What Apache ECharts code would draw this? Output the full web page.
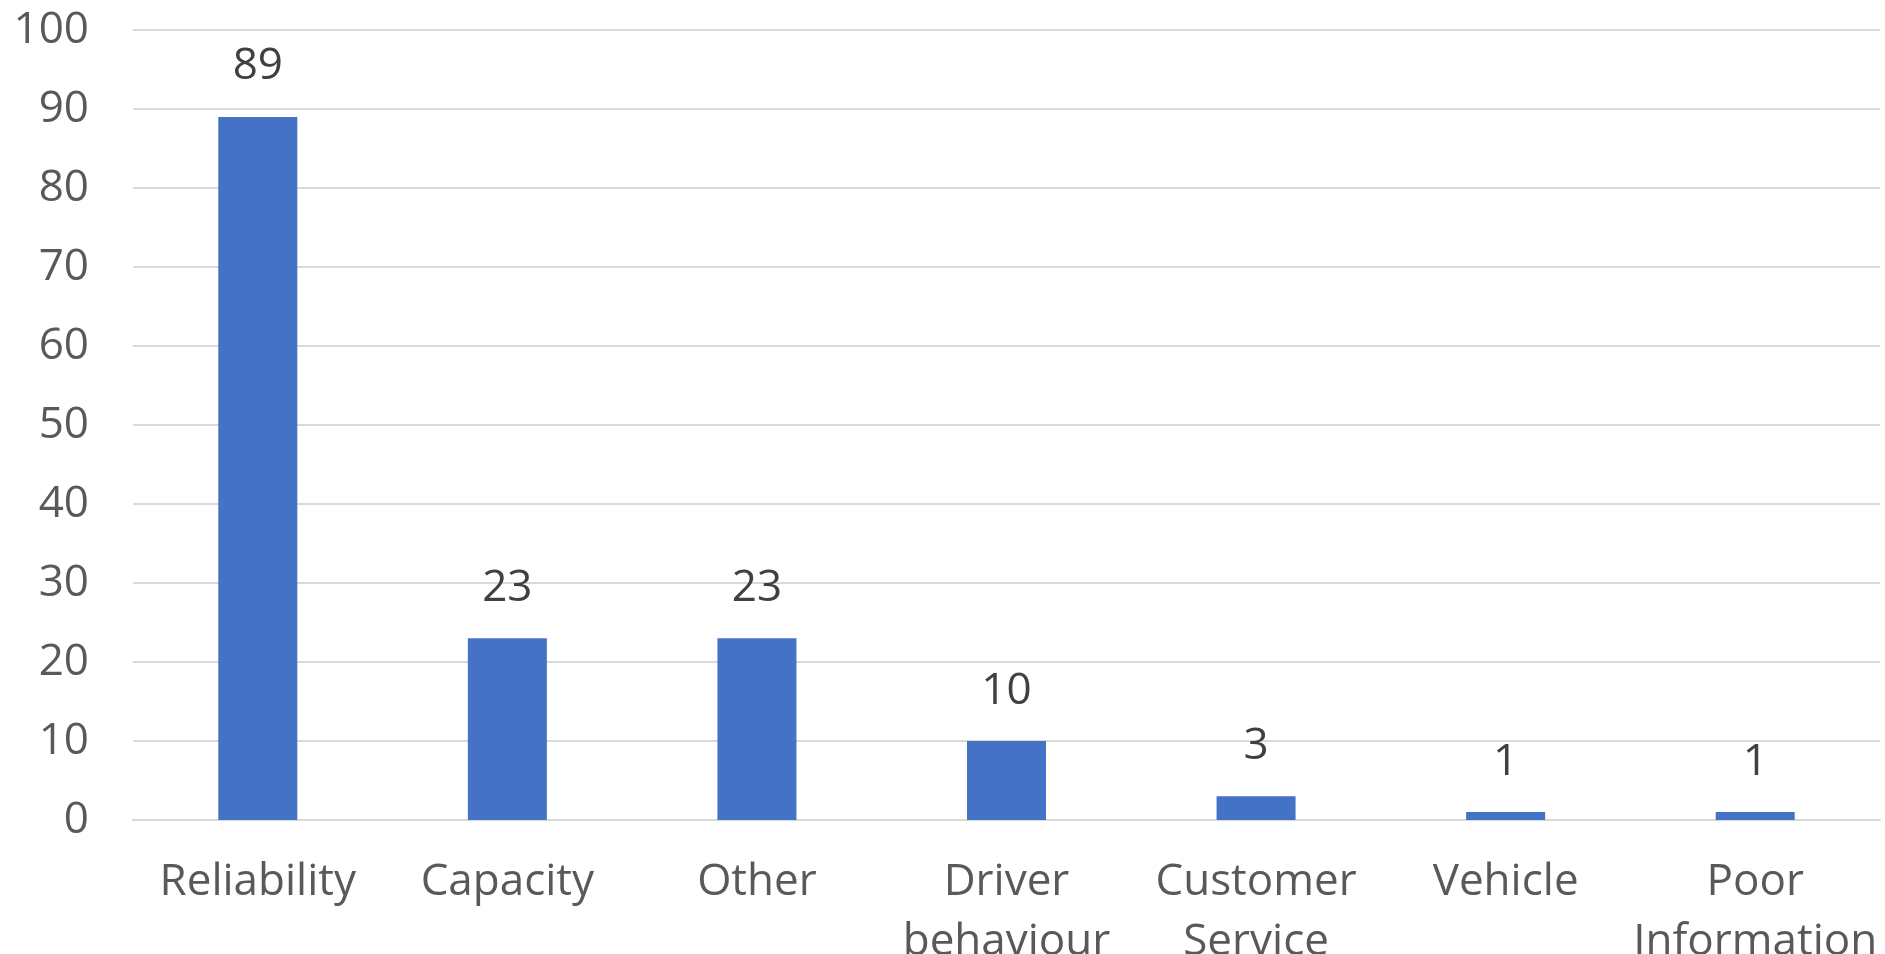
<!DOCTYPE html>
<html>
<head>
<meta charset="utf-8">
<script src="https://cdn.jsdelivr.net/npm/echarts@6/dist/echarts.min.js"></script>
<style>
  html, body { margin: 0; padding: 0; background: #ffffff; overflow: hidden; }
  #chart { width: 1885px; height: 954px; }
</style>
</head>
<body>
<div id="chart"></div>
<script>
// Complaint categories and their counts
const categories = ['Reliability', 'Capacity', 'Other', 'Driver\nbehaviour', 'Customer\nService', 'Vehicle', 'Poor\nInformation'];
const counts = [89, 23, 23, 10, 3, 1, 1];
const yTicks = { min: 0, max: 100, interval: 10 };

const textFont = '"Open Sans", "Noto Sans", sans-serif';
const chart = echarts.init(document.getElementById('chart'));

chart.setOption({
  animation: false,
  grid: {
    left: 133, right: 5, top: 30, bottom: 134,
    containLabel: false,
    outerBoundsMode: 'none'
  },
  xAxis: {
    type: 'category',
    data: categories,
    axisTick: { show: false },
    axisLine: { lineStyle: { color: '#d9d9d9', width: 2 } },
    axisLabel: {
      color: '#595959',
      fontFamily: textFont,
      fontSize: 44,
      lineHeight: 60,
      margin: 32,
      interval: 0
    }
  },
  yAxis: {
    type: 'value',
    min: yTicks.min,
    max: yTicks.max,
    interval: yTicks.interval,
    axisLine: { show: false },
    axisTick: { show: false },
    splitLine: { lineStyle: { color: '#d9d9d9', width: 2 } },
    axisLabel: {
      color: '#595959',
      fontFamily: textFont,
      fontSize: 44,
      margin: 44
    }
  },
  series: [{
    type: 'bar',
    data: counts,
    barWidth: 79,
    itemStyle: { color: '#4472C4' },
    label: {
      show: true,
      position: 'top',
      distance: 28,
      color: '#404040',
      fontFamily: textFont,
      fontSize: 44
    }
  }]
});
</script>
</body>
</html>
